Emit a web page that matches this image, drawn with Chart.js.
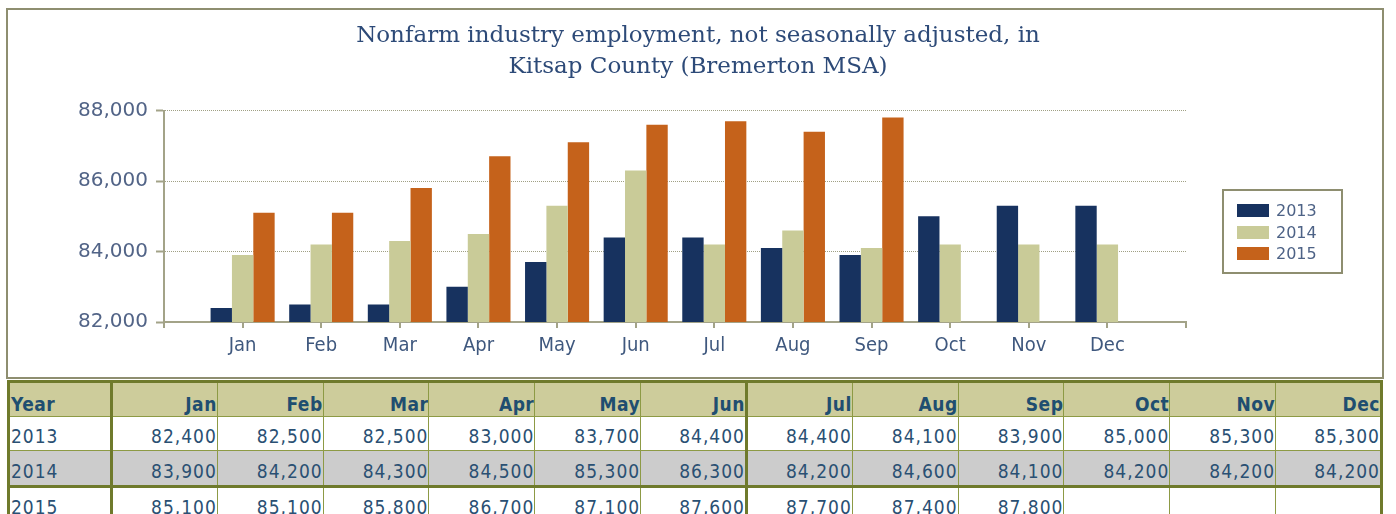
<!DOCTYPE html>
<html>
<head>
<meta charset="utf-8">
<script src="https://cdn.jsdelivr.net/npm/chart.js@4.4.1/dist/chart.umd.min.js"></script>
<style>
  html, body { margin: 0; padding: 0; background: #ffffff; }
  body { width: 1396px; height: 514px; position: relative; overflow: hidden; }
  #box { position: absolute; left: 6px; top: 8px; width: 1378px; height: 371px; box-sizing: border-box;
         border: 2px solid #8e8e70; }
  #wrap { position: absolute; left: 0; top: 0; width: 1396px; height: 380px; }
  #legend { position: absolute; left: 1222px; top: 189px; width: 121px; height: 85px; box-sizing: border-box;
            border: 2px solid #8e8e70; padding: 9px 0 0 13px; font-family: "DejaVu Sans", sans-serif;
            font-size: 16px; color: #4d6286; }
  #legend .item { height: 21.5px; display: flex; align-items: center; }
  #legend .sw { width: 32px; height: 13px; margin-right: 7px; }
  table { position: absolute; left: 7px; top: 380px; width: 1376px; border-collapse: collapse; table-layout: fixed;
          font-family: "DejaVu Sans Condensed", "DejaVu Sans", sans-serif; font-size: 19px; letter-spacing: 1px; }
  td, th { border: 1px solid #8d9a45; padding: 0 0 0 1px; text-align: right; overflow: hidden; white-space: nowrap; }
  th { background: #cdcc9b; color: #1f4e70; font-weight: bold; height: 32px; vertical-align: bottom; padding-bottom: 1px; letter-spacing: 0.5px; }
  td { color: #2a5073; height: 30px; vertical-align: bottom; padding-bottom: 3px; }
  th:first-child, td:first-child { text-align: left; border-right: 3px solid #6f7a2c; }
  tr.head th { border-top: 3px solid #6f7a2c; }
  tr > :nth-child(7) { border-right: 3px solid #6f7a2c; }
  tr > :first-child { border-left: 3px solid #6f7a2c; }
  tr > :last-child { border-right: 3px solid #6f7a2c; }
  tr.alt td { background: #cccccc; height: 31px; }
  tr.alt td { border-bottom: 3px solid #6f7a2c; }
</style>
</head>
<body>
<div id="box"></div>
<div id="wrap"><canvas id="c" width="1396" height="380"></canvas></div>
<div id="legend"></div>
<table id="tbl"></table>
<script>
const months = ["Jan","Feb","Mar","Apr","May","Jun","Jul","Aug","Sep","Oct","Nov","Dec"];
const years = ["2013","2014","2015"];
const v2013 = [82400,82500,82500,83000,83700,84400,84400,84100,83900,85000,85300,85300];
const v2014 = [83900,84200,84300,84500,85300,86300,84200,84600,84100,84200,84200,84200];
const v2015 = [85100,85100,85800,86700,87100,87600,87700,87400,87800];
const yTicks = [82000,84000,86000,88000];
const titleLines = ["Nonfarm industry employment, not seasonally adjusted, in","Kitsap County (Bremerton MSA)"];
const colors = ["#17325f","#c9cb98","#c5621b"];

const series = [v2013, v2014, v2015];
const toPoints = arr => arr.map((v, i) => ({x: i + 1, y: v}));
const axisColor = "#a3a388";

new Chart(document.getElementById("c"), {
  type: "bar",
  data: {
    datasets: series.map((s, k) => ({
      label: years[k],
      data: toPoints(s),
      backgroundColor: colors[k],
      borderWidth: 0,
      categoryPercentage: 0.815,
      barPercentage: 1.0
    }))
  },
  options: {
    responsive: false,
    animation: false,
    layout: { padding: { top: 20, left: 0, right: 0, bottom: 0 } },
    plugins: {
      legend: { display: false },
      tooltip: { enabled: false },
      title: {
        display: true,
        fullSize: true,
        text: titleLines,
        color: "#2d4a78",
        font: { family: "'DejaVu Serif', serif", size: 23, weight: "normal", lineHeight: 1.36 },
        padding: { top: 0, bottom: 28 }
      }
    },
    scales: {
      x: {
        type: "linear",
        offset: false,
        min: 0,
        max: months.length + 1,
        afterFit: s => { s.height = 58; },
        afterBuildTicks: s => { s.ticks = Array.from({length: months.length + 2}, (_, i) => ({value: i})); },
        ticks: {
          stepSize: 1,
          autoSkip: false,
          maxRotation: 0,
          color: "#3f587e",
          padding: 6,
          font: { family: "'DejaVu Sans Condensed', 'DejaVu Sans', sans-serif", size: 20 },
          callback: v => months[v - 1] || ""
        },
        grid: { offset: false, drawOnChartArea: false, drawTicks: true, tickLength: 6, color: axisColor, lineWidth: 2 },
        border: { display: true, color: axisColor, width: 2 }
      },
      y: {
        min: yTicks[0],
        max: yTicks[yTicks.length - 1],
        afterFit: s => { s.width = 164; },
        afterBuildTicks: s => { s.ticks = yTicks.map(v => ({value: v})); },
        ticks: {
          color: "#526487",
          padding: 8,
          font: { family: "'DejaVu Sans', sans-serif", size: 20 },
          callback: v => v.toLocaleString("en-US")
        },
        grid: { drawOnChartArea: true, drawTicks: true, tickLength: 8, color: "#a0a084", lineWidth: 1,
                tickColor: axisColor, tickWidth: 2 },
        border: { display: true, color: axisColor, width: 2, dash: [1, 1] }
      },
      yRightSpace: {
        position: "right",
        display: true,
        afterFit: s => { s.width = 210; },
        ticks: { display: false },
        grid: { display: false, drawTicks: false },
        border: { display: false }
      }
    }
  }
});

// legend
const lg = document.getElementById("legend");
years.forEach((y, k) => {
  const it = document.createElement("div");
  it.className = "item";
  it.innerHTML = '<span class="sw" style="background:' + colors[k] + '"></span><span>' + y + '</span>';
  lg.appendChild(it);
});

// table
const tbl = document.getElementById("tbl");
const cg = document.createElement("colgroup");
let cgHtml = '<col style="width:103px">';
months.forEach(() => { cgHtml += '<col>'; });
cg.innerHTML = cgHtml;
tbl.appendChild(cg);
const fmt = v => (v == null ? "" : v.toLocaleString("en-US"));
let html = '<tr class="head"><th>Year</th>' + months.map(m => '<th>' + m + '</th>').join("") + '</tr>';
series.forEach((s, k) => {
  html += '<tr' + (k === 1 ? ' class="alt"' : '') + '><td>' + years[k] + '</td>' +
    months.map((m, i) => '<td>' + fmt(s[i]) + '</td>').join("") + '</tr>';
});
tbl.insertAdjacentHTML("beforeend", html);
</script>
</body>
</html>
